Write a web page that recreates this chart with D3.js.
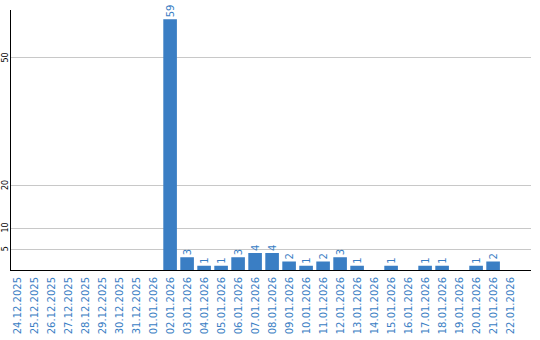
<!DOCTYPE html>
<html><head><meta charset="utf-8">
<script src="https://cdn.jsdelivr.net/npm/d3@7"></script>
<style>body{margin:0;background:#fff}svg{display:block}</style>
</head><body>
<script>
const categories = ["24.12.2025","25.12.2025","26.12.2025","27.12.2025","28.12.2025","29.12.2025","30.12.2025","31.12.2025","01.01.2026","02.01.2026","03.01.2026","04.01.2026","05.01.2026","06.01.2026","07.01.2026","08.01.2026","09.01.2026","10.01.2026","11.01.2026","12.01.2026","13.01.2026","14.01.2026","15.01.2026","16.01.2026","17.01.2026","18.01.2026","19.01.2026","20.01.2026","21.01.2026","22.01.2026"];
const values = [0,0,0,0,0,0,0,0,0,59,3,1,1,3,4,4,2,1,2,3,1,0,1,0,1,1,0,1,2,0];
const yTicks = [5,10,20,50];

const W=540,H=340;
const blue="#3a7ec4";
const svg=d3.select("body").append("svg").attr("width",W).attr("height",H);
const x=d3.scaleBand().domain(categories).range([8.6,518.6]).paddingInner(0.2).paddingOuter(0.1);
const y=d3.scaleLinear().domain([0,60]).range([270,15]);

// gridlines
svg.append("g").selectAll("line").data(yTicks).join("line")
  .attr("x1",11).attr("x2",531)
  .attr("y1",d=>Math.round(y(d))+0.5).attr("y2",d=>Math.round(y(d))+0.5)
  .attr("stroke","#c8c8c8").attr("stroke-width",1);

// y tick labels
svg.append("g").selectAll("text").data(yTicks).join("text")
  .attr("transform",d=>`translate(7.5,${y(d)}) rotate(-90)`)
  .attr("text-anchor","middle")
  .attr("font-family","DejaVu Sans").attr("font-size",8).attr("fill","#000")
  .text(d=>d);

// bars
svg.append("g").selectAll("rect").data(values).join("rect")
  .attr("x",(d,i)=>x(categories[i])).attr("width",x.bandwidth())
  .attr("y",d=>y(d)).attr("height",d=>y(0)-y(d))
  .attr("fill",blue);

// value labels
svg.append("g").selectAll("text").data(values.map((v,i)=>({v,c:categories[i]})).filter(d=>d.v>0)).join("text")
  .attr("transform",d=>`translate(${x(d.c)+x.bandwidth()/2},${y(d.v)-2}) rotate(-90)`)
  .attr("dy","0.35em").attr("text-anchor","start")
  .attr("font-family","DejaVu Sans").attr("font-size",10).attr("fill",blue)
  .text(d=>d.v);

// axes lines
svg.append("line").attr("x1",10.5).attr("x2",10.5).attr("y1",10).attr("y2",270.5).attr("stroke","#000");
svg.append("line").attr("x1",10).attr("x2",531).attr("y1",270.5).attr("y2",270.5).attr("stroke","#000");

// x labels
svg.append("g").selectAll("text").data(categories).join("text")
  .attr("transform",d=>`translate(${x(d)+x.bandwidth()/2},277) rotate(-90)`)
  .attr("dy","0.35em").attr("text-anchor","end")
  .attr("font-family","DejaVu Sans").attr("font-size",10).attr("fill",blue)
  .text(d=>d);
</script>
</body></html>
